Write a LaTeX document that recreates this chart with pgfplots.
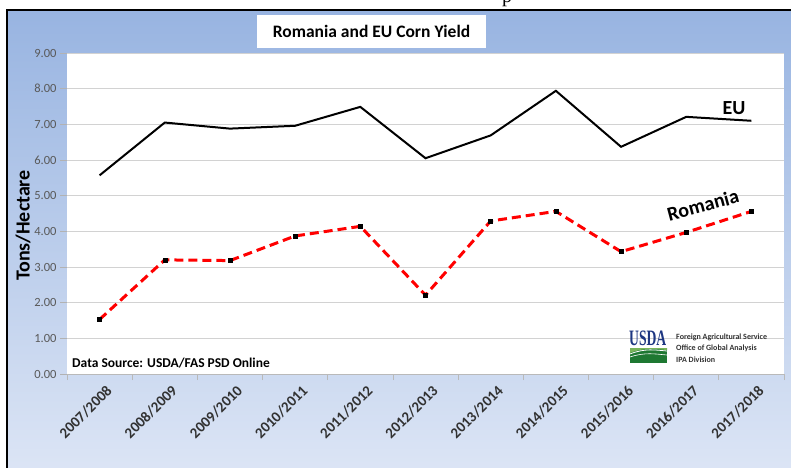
\documentclass[border=0pt]{standalone}
\usepackage{pgfplots}
\pgfplotsset{compat=1.18}
\usepackage{fontspec}
\setmainfont{Carlito}
\newfontfamily\seriffont{Liberation Serif}
\definecolor{bgtop}{RGB}{152,180,225}
\definecolor{bgbot}{RGB}{220,229,245}
\definecolor{gridc}{RGB}{210,210,210}
\definecolor{tickc}{RGB}{89,89,89}
\definecolor{xlabc}{RGB}{50,50,50}
\definecolor{usdablue}{RGB}{30,55,130}
\definecolor{usdagreen}{RGB}{30,120,50}
\definecolor{usdalight}{RGB}{120,180,90}

\pgfplotstableread{
x eu ro
0 5.57 1.53
1 7.05 3.20
2 6.88 3.18
3 6.96 3.87
4 7.49 4.14
5 6.05 2.21
6 6.69 4.29
7 7.94 4.56
8 6.37 3.43
9 7.21 3.97
10 7.10 4.56
}\yielddata

\begin{document}
\begin{tikzpicture}[x=1pt,y=1pt]
\useasboundingbox (0,0) rectangle (791,467);
\clip (0,0) rectangle (791,467);
\fill[white] (0,0) rectangle (791,467);
\shade[top color=bgtop, bottom color=bgbot] (7,-5) rectangle (800,457);
\draw[line width=2pt] (7,-10) -- (7,457) -- (800,457);
\node[font=\seriffont\fontsize{20}{24}\selectfont, anchor=base, inner sep=0pt] at (507,464) {p};

% title box
\node[fill=white, minimum width=229pt, minimum height=33pt, inner sep=0pt,
      font=\bfseries\fontsize{17.5}{20}\selectfont] at (371.5,435.5) {Romania and EU Corn Yield};

\begin{axis}[
  at={(67pt,93pt)}, anchor=south west,
  scale only axis, width=717pt, height=321pt,
  xmin=-0.5, xmax=10.5, ymin=0, ymax=9,
  axis background/.style={fill=white},
  axis x line*=bottom, axis y line*=left,
  x axis line style={draw=gray!55, line width=0.8pt},
  y axis line style={draw=none},
  tick align=outside,
  xtick={0,...,10},
  xticklabels={2007/2008,2008/2009,2009/2010,2010/2011,2011/2012,2012/2013,2013/2014,2014/2015,2015/2016,2016/2017,2017/2018},
  xtick style={draw=none},
  minor xtick={-0.5,0.5,...,10.5},
  minor tick length=6pt,
  minor x tick style={draw=gray!55, line width=0.8pt},
  ytick={0,1,...,9},
  major tick length=7pt,
  ytick style={draw=gray!60, line width=0.8pt},
  ymajorgrids,
  major grid style={draw=gridc, line width=1pt},
  /pgf/number format/.cd, fixed, fixed zerofill, precision=2, assume math mode=true,
  /pgfplots/.cd,
  yticklabel style={font=\fontsize{12.5}{14}\selectfont, text=tickc},
  xticklabel style={font=\bfseries\fontsize{15}{16}\selectfont, text=xlabc, rotate=45, anchor=east, inner sep=1pt, xshift=3pt, yshift=-12pt},
  clip=false,
]
\addplot[black, line width=2pt, mark=none] table[x=x, y=eu] {\yielddata};
\addplot[red, line width=3pt, dash pattern=on 9pt off 5pt, mark=square*, mark size=2pt,
  mark options={solid, black, fill=black, line width=0.4pt}] table[x=x, y=ro] {\yielddata};
\end{axis}

% axis title
\node[rotate=90, font=\bfseries\fontsize{20}{22}\selectfont] at (23,241.5) {Tons/Hectare};
% series labels
\node[font=\bfseries\fontsize{20}{22}\selectfont] at (734,359) {EU};
\node[rotate=15, font=\bfseries\fontsize{20}{22}\selectfont] at (703,262) {Romania};
% data source
\node[anchor=west, inner sep=0pt, font=\bfseries\fontsize{13.5}{15}\selectfont] at (72,104) {Data Source: USDA/FAS PSD Online};
% USDA logo
\node[anchor=south west, inner sep=0pt, text=usdablue, font=\seriffont\bfseries\fontsize{22}{24}\selectfont] at (629,121) {\scalebox{0.62}[1]{USDA}};
\fill[usdagreen] (630,104) rectangle (667,119);
\fill[usdalight] (630,114) .. controls (645,120) and (655,118) .. (667,117) -- (667,119) -- (630,119) -- cycle;
\draw[white, line width=0.8pt] (630,113) .. controls (645,119) and (655,117) .. (667,116);
\draw[white, line width=0.6pt] (630,110) .. controls (645,115) and (655,113) .. (667,112);
\node[anchor=west, inner sep=0pt, text=black!80, font=\bfseries\fontsize{8}{9}\selectfont] at (676,130) {Foreign Agricultural Service};
\node[anchor=west, inner sep=0pt, text=black!80, font=\bfseries\fontsize{8}{9}\selectfont] at (676,118.5) {Office of Global Analysis};
\node[anchor=west, inner sep=0pt, text=black!80, font=\bfseries\fontsize{8}{9}\selectfont] at (676,107) {IPA Division};
\end{tikzpicture}
\end{document}
